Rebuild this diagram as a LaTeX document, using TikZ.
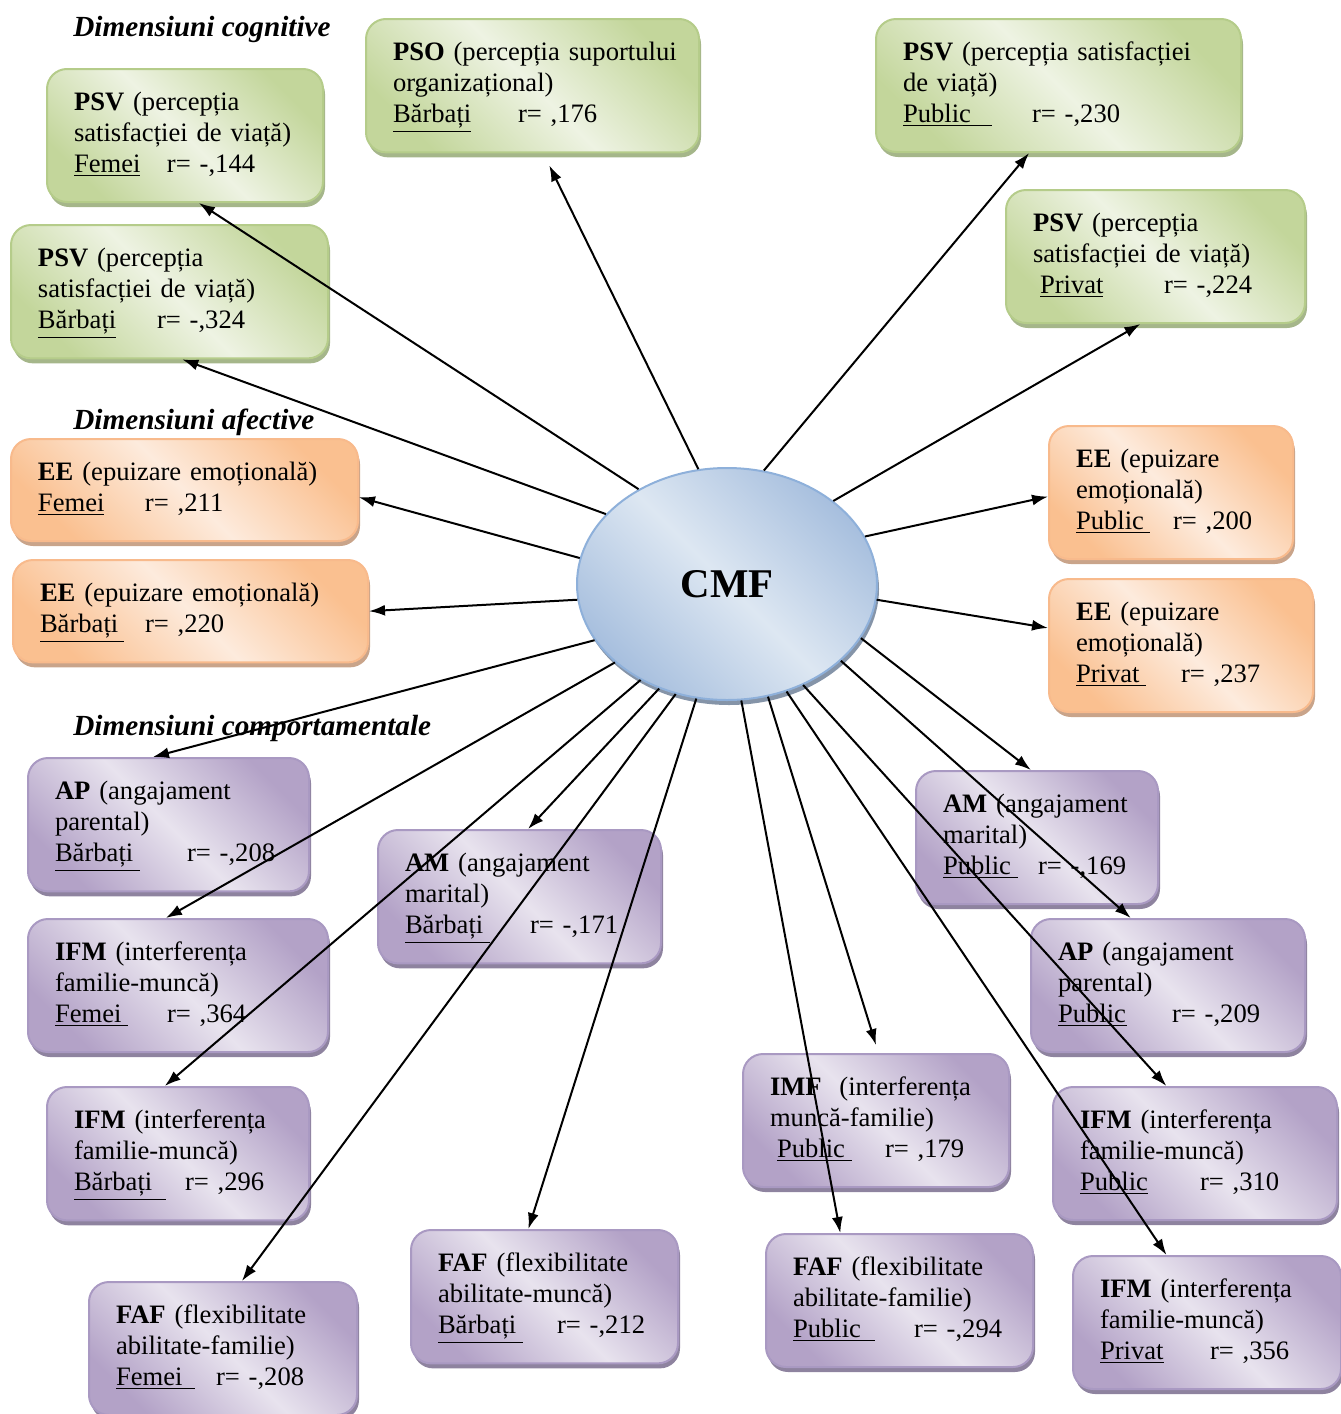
\documentclass[tikz,border=0pt]{standalone}
\usepackage{fontspec}
\setmainfont{Liberation Serif}
\usetikzlibrary{shapes.geometric,shadows,calc,arrows.meta}

\definecolor{grnedge}{HTML}{C3D69B}
\definecolor{grnmid}{HTML}{EEF3E3}
\definecolor{grnline}{HTML}{B5CC8A}
\definecolor{grnshade}{HTML}{A5B68A}
\definecolor{orgedge}{HTML}{FAC090}
\definecolor{orgmid}{HTML}{FDEBDD}
\definecolor{orgline}{HTML}{F8BA8C}
\definecolor{orgshade}{HTML}{C9A48A}
\definecolor{purpedge}{HTML}{B3A2C7}
\definecolor{purpmid}{HTML}{E8E3EE}
\definecolor{purpline}{HTML}{A999C2}
\definecolor{purpshade}{HTML}{8E839F}
\definecolor{bluedge}{HTML}{A7BFDE}
\definecolor{blumid}{HTML}{DDE7F2}
\definecolor{bluline}{HTML}{8EB0DA}
\definecolor{blushade}{HTML}{8594A8}

% group name, underline length, distance to r=
\newcommand{\grp}[3]{\makebox[#3][l]{\underline{\makebox[#2][l]{#1}}}}

\tikzset{
  box/.style={rounded corners=10pt, anchor=north west, align=left,
    inner xsep=13.5pt, inner ysep=10pt, line width=1pt,
    font=\fontsize{13.3}{15.5}\selectfont,
    execute at begin node={\rightskip=-14pt plus 1fil\strut},
    execute at end node={\strut}},
  gbox/.style={box, draw=grnline, left color=grnedge, right color=grnedge,
    middle color=grnmid, shading angle=135,
    drop shadow={shadow xshift=1pt, shadow yshift=-2.5pt, fill=grnshade, opacity=1}},
  obox/.style={box, draw=orgline, left color=orgedge, right color=orgedge,
    middle color=orgmid, shading angle=135,
    drop shadow={shadow xshift=1pt, shadow yshift=-2.5pt, fill=orgshade, opacity=1}},
  pbox/.style={box, draw=purpline, left color=purpedge, right color=purpedge,
    middle color=purpmid, shading angle=135,
    drop shadow={shadow xshift=1pt, shadow yshift=-2.5pt, fill=purpshade, opacity=1}},
  center/.style={ellipse, draw=bluline, line width=1pt, left color=bluedge,
    right color=bluedge, middle color=blumid, shading angle=135,
    minimum width=150pt, minimum height=116pt,
    font=\fontsize{20.4}{24}\selectfont\bfseries,
    drop shadow={shadow xshift=1pt, shadow yshift=-2.5pt, fill=blushade, opacity=1}},
  head/.style={anchor=base west, inner sep=0pt,
    font=\fontsize{14.6}{17}\selectfont\bfseries\itshape},
  arr/.style={-{Latex[length=8pt,width=5.5pt]}, line width=1pt}
}

\begin{document}
\begin{tikzpicture}[x=0.5pt, y=-0.5pt]
  \useasboundingbox (0,0) rectangle (1340,1414);

  \node[head] (hcog) at (73,36) {Dimensiuni cognitive};
  \node[head] (hafe) at (73,429) {Dimensiuni afective};
  \node[head] (hcomp) at (73,735) {Dimensiuni comportamentale};

  \node[center] (cmf) at (727,584) {CMF};

  % cognitive
  \node[gbox, text width=111pt] (psvf) at (46,68)
    {\textbf{PSV} (percepția\\satisfacției de viață)\\\grp{Femei}{33pt}{46.5pt}r= -,144};
  \node[gbox, text width=139.5pt] (pso) at (365,18)
    {\textbf{PSO} (percepția suportului\\organizațional)\\\grp{Bărbați}{39pt}{62.5pt}r= ,176};
  \node[gbox, text width=155.5pt] (psvpub) at (875,18)
    {\textbf{PSV} (percepția satisfacției\\de viață)\\\grp{Public}{44.5pt}{64.5pt}r= -,230};
  \node[gbox, text width=131.5pt] (psvb) at (10,224)
    {\textbf{PSV} (percepția\\satisfacției de viață)\\\grp{Bărbați}{39pt}{59.5pt}r= -,324};
  \node[gbox, text width=122.5pt] (psvpriv) at (1005,189)
    {\textbf{PSV} (percepția\\satisfacției de viață)\\\hspace{3.5pt}\grp{Privat}{31.5pt}{62pt}r= -,224};

  % afective
  \node[obox, text width=146.5pt] (eef) at (10,438)
    {\textbf{EE} (epuizare emoțională)\\\grp{Femei}{33pt}{53.5pt}r= ,211};
  \node[obox, text width=150.5pt] (eeb) at (12,559)
    {\textbf{EE} (epuizare emoțională)\\\grp{Bărbați}{42pt}{52.5pt}r= ,220};
  \node[obox, text width=95pt] (eepub) at (1048,425)
    {\textbf{EE} (epuizare\\emoțională)\\\grp{Public}{37pt}{48.5pt}r= ,200};
  \node[obox, text width=105pt] (eepriv) at (1048,578)
    {\textbf{EE} (epuizare\\emoțională)\\\grp{Privat}{35pt}{52.5pt}r= ,237};

  % comportamentale
  \node[pbox, text width=113.5pt] (apb) at (27,757)
    {\textbf{AP} (angajament\\parental)\\\grp{Bărbați}{42.5pt}{66pt}r= -,208};
  \node[pbox, text width=114.5pt] (amb) at (377,829)
    {\textbf{AM} (angajament\\marital)\\\grp{Bărbați}{42.5pt}{62.5pt}r= -,171};
  \node[pbox, text width=123pt] (ifmf) at (27,918)
    {\textbf{IFM} (interferența\\familie-muncă)\\\grp{Femei}{36.5pt}{56pt}r= ,364};
  \node[pbox, text width=104pt] (ifmb) at (46,1086)
    {\textbf{IFM} (interferența\\familie-muncă)\\\grp{Bărbați}{46pt}{55.5pt}r= ,296};
  \node[pbox, text width=107pt] (faff) at (88,1281)
    {\textbf{FAF} (flexibilitate\\abilitate-familie)\\\grp{Femei}{39.5pt}{50pt}r= -,208};
  \node[pbox, text width=106.5pt] (fafb) at (410,1229)
    {\textbf{FAF} (flexibilitate\\abilitate-muncă)\\\grp{Bărbați}{42.5pt}{59.5pt}r= -,212};
  \node[pbox, text width=94pt] (ampub) at (915,770)
    {\textbf{AM} (angajament\\marital)\\\grp{Public}{37.5pt}{47.5pt}r= -,169};
  \node[pbox, text width=110pt] (appub) at (1030,918)
    {\textbf{AP} (angajament\\parental)\\\grp{Public}{34.5pt}{57pt}r= -,209};
  \node[pbox, text width=106pt] (imfpub) at (742,1053)
    {\textbf{IMF}~ (interferența\\muncă-familie)\\\hspace{3.5pt}\grp{Public}{37.5pt}{54pt}r= ,179};
  \node[pbox, text width=115pt] (ifmpub) at (1052,1086)
    {\textbf{IFM} (interferența\\familie-muncă)\\\grp{Public}{34pt}{60pt}r= ,310};
  \node[pbox, text width=106.5pt] (fafpub) at (765,1233)
    {\textbf{FAF} (flexibilitate\\abilitate-familie)\\\grp{Public}{41pt}{60.5pt}r= -,294};
  \node[pbox, text width=107pt] (ifmpriv) at (1072,1255)
    {\textbf{IFM} (interferența\\familie-muncă)\\\grp{Privat}{32pt}{55pt}r= ,356};

  % arrows
  \draw[arr] (cmf.133) -- ($(psvf.south west)!.55!(psvf.south east)$);
  \draw[arr] (cmf.150) -- ($(psvb.south west)!.54!(psvb.south east)$);
  \draw[arr] (cmf.104) -- ($(pso.south west)!.55!(pso.south east)+(0,12)$);
  \draw[arr] (cmf.72) -- ($(psvpub.south west)!.42!(psvpub.south east)$);
  \draw[arr] (cmf.38) -- ($(psvpriv.south west)!.45!(psvpriv.south east)$);
  \draw[arr] (cmf.170) -- ($(eef.north east)!.57!(eef.south east)$);
  \draw[arr] (cmf.186) -- ($(eeb.north east)!.5!(eeb.south east)$);
  \draw[arr] (cmf.19) -- ($(eepub.north west)!.53!(eepub.south west)$);
  \draw[arr] (cmf.354) -- ($(eepriv.north west)!.37!(eepriv.south west)$);
  \draw[arr] (cmf.203) -- ($(apb.north west)!.445!(apb.north east)$);
  \draw[arr] (cmf.215) -- ($(ifmf.north west)!.46!(ifmf.north east)$);
  \draw[arr] (cmf.237) -- ($(amb.north west)!.53!(amb.north east)$);
  \draw[arr] (cmf.228) -- ($(ifmb.north west)!.45!(ifmb.north east)$);
  \draw[arr] (cmf.245) -- ($(faff.north west)!.57!(faff.north east)$);
  \draw[arr] (cmf.255) -- ($(fafb.north west)!.44!(fafb.north east)$);
  \draw[arr] (cmf.277) -- ($(fafpub.north west)!.28!(fafpub.north east)$);
  \draw[arr] (cmf.290) -- ($(imfpub.north west)!.5!(imfpub.north east)+(0,-8)$);
  \draw[arr] (cmf.299) -- ($(ifmpriv.north west)!.35!(ifmpriv.north east)$);
  \draw[arr] (cmf.307) -- ($(ifmpub.north west)!.4!(ifmpub.north east)$);
  \draw[arr] (cmf.326) -- ($(appub.north west)!.365!(appub.north east)$);
  \draw[arr] (cmf.338) -- ($(ampub.north west)!.475!(ampub.north east)$);
\end{tikzpicture}
\end{document}
